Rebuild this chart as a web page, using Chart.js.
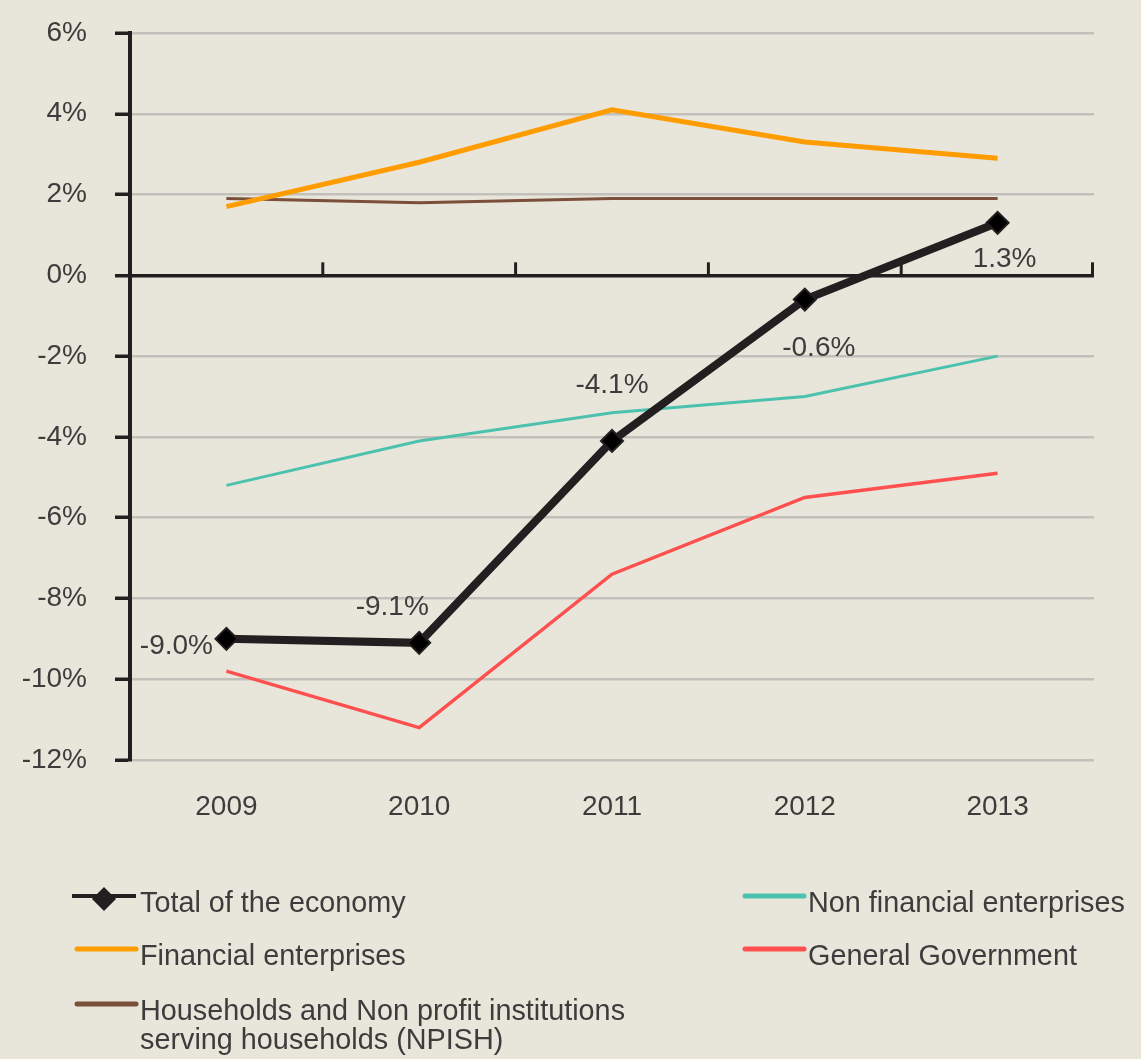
<!DOCTYPE html>
<html>
<head>
<meta charset="utf-8">
<script src="https://cdn.jsdelivr.net/npm/chart.js@4.4.0/dist/chart.umd.min.js"></script>
<style>
  html, body { margin: 0; padding: 0; background: #e8e6da; }
</style>
</head>
<body>
<canvas id="chart" width="1141" height="1059"></canvas>
<script>
// data
const years = ['2009', '2010', '2011', '2012', '2013'];
const totalEconomy = [-9.0, -9.1, -4.1, -0.6, 1.3];
const nonFinancial = [-5.2, -4.1, -3.4, -3.0, -2.0];
const financial = [1.7, 2.8, 4.1, 3.3, 2.9];
const generalGov = [-9.8, -11.2, -7.4, -5.5, -4.9];
const households = [1.9, 1.8, 1.9, 1.9, 1.9];
const yMin = -12, yMax = 6, yStep = 2;

const dark = '#231f20';
const textColor = '#3c3c3c';
const font = '"Liberation Sans", Arial, sans-serif';
Chart.defaults.font.family = font;

// where each value label sits relative to its point
const labelOffsets = [[-50, 7], [-27, -36], [0, -56], [14, 49], [7, 36]];
// legend slots: text left x, row centre y
const legendSlots = [[140, 904], [808, 904], [140, 957], [808, 957], [140, 1012]];

const valueLabels = {
  id: 'valueLabels',
  afterDatasetsDraw(chart) {
    const ctx = chart.ctx;
    const meta = chart.getDatasetMeta(0);
    ctx.save();
    ctx.font = '28px ' + font;
    ctx.fillStyle = textColor;
    ctx.textAlign = 'center';
    ctx.textBaseline = 'middle';
    meta.data.forEach((pt, i) => {
      const v = totalEconomy[i];
      ctx.fillText(v.toFixed(1) + '%', pt.x + labelOffsets[i][0], pt.y + labelOffsets[i][1]);
    });
    ctx.restore();
  }
};

// category separators standing on the 0% line
const zeroTicks = {
  id: 'zeroTicks',
  beforeDatasetsDraw(chart) {
    const ctx = chart.ctx;
    const x = chart.scales.x, y = chart.scales.y;
    const y0 = y.getPixelForValue(0);
    ctx.save();
    ctx.strokeStyle = dark;
    ctx.lineWidth = 3;
    for (let i = 0; i < years.length; i++) {
      const px = i < years.length - 1
        ? (x.getPixelForValue(i) + x.getPixelForValue(i + 1)) / 2
        : chart.chartArea.right - 1.5;
      ctx.beginPath();
      ctx.moveTo(px, y0);
      ctx.lineTo(px, y0 - 13);
      ctx.stroke();
    }
    ctx.restore();
  }
};

const legendBox = {
  id: 'legendBox',
  afterDraw(chart) {
    const ctx = chart.ctx;
    ctx.save();
    ctx.font = '28.8px ' + font;
    ctx.textBaseline = 'middle';
    chart.data.datasets.forEach((ds, i) => {
      const [tx, ty] = legendSlots[i];
      const sy = ty - 8;
      ctx.strokeStyle = ds.borderColor;
      ctx.lineCap = i === 0 ? 'butt' : 'round';
      ctx.lineWidth = i === 0 ? 4 : 5;
      ctx.beginPath();
      ctx.moveTo(tx - (i === 0 ? 68 : 63), sy);
      ctx.lineTo(tx - 4, sy);
      ctx.stroke();
      if (i === 0) {
        const cx = tx - 36, cy = sy + 3, r = 12;
        ctx.fillStyle = dark;
        ctx.beginPath();
        ctx.moveTo(cx, cy - r);
        ctx.lineTo(cx + r, cy);
        ctx.lineTo(cx, cy + r);
        ctx.lineTo(cx - r, cy);
        ctx.closePath();
        ctx.fill();
      }
      // wrap long labels
      const words = ds.label.split(' ');
      const lines = [];
      let cur = '';
      words.forEach(w => {
        const test = cur ? cur + ' ' + w : w;
        if (ctx.measureText(test).width > 510 && cur) { lines.push(cur); cur = w; }
        else cur = test;
      });
      lines.push(cur);
      ctx.fillStyle = textColor;
      ctx.textAlign = 'left';
      lines.forEach((ln, k) => ctx.fillText(ln, tx, ty + k * 29));
    });
    ctx.restore();
  }
};

new Chart(document.getElementById('chart'), {
  type: 'line',
  data: {
    labels: years,
    datasets: [
      {
        label: 'Total of the economy',
        data: totalEconomy,
        borderColor: dark,
        borderWidth: 8,
        pointStyle: 'rectRot',
        pointRadius: 11,
        pointBackgroundColor: '#000000',
        pointBorderColor: dark,
        pointBorderWidth: 2
      },
      {
        label: 'Non financial enterprises',
        data: nonFinancial,
        borderColor: '#4cc2ae',
        borderWidth: 3,
        pointRadius: 0
      },
      {
        label: 'Financial enterprises',
        data: financial,
        borderColor: '#ff9c00',
        borderWidth: 5,
        pointRadius: 0
      },
      {
        label: 'General Government',
        data: generalGov,
        borderColor: '#ff5050',
        borderWidth: 3.5,
        pointRadius: 0
      },
      {
        label: 'Households and Non profit institutions serving households (NPISH)',
        data: households,
        borderColor: '#7b4f3a',
        borderWidth: 3,
        pointRadius: 0
      }
    ]
  },
  options: {
    responsive: false,
    animation: false,
    events: [],
    layout: { padding: { left: 0, right: 47, top: 33, bottom: 209 } },
    plugins: { legend: { display: false }, tooltip: { enabled: false } },
    scales: {
      x: {
        offset: true,
        grid: { display: false, drawTicks: false },
        border: { display: false },
        ticks: { color: textColor, font: { size: 28 }, padding: 30 },
        afterFit(scale) { scale.height = 90; }
      },
      y: {
        min: yMin,
        max: yMax,
        ticks: {
          stepSize: yStep,
          color: textColor,
          font: { size: 28 },
          padding: 28,
          callback: v => v + '%'
        },
        grid: {
          color: c => c.tick && c.tick.value === 0 ? dark : '#c2c0bb',
          lineWidth: c => c.tick && c.tick.value === 0 ? 3.5 : 2.5,
          tickColor: dark,
          tickWidth: 3.5,
          tickLength: 15
        },
        border: { color: dark, width: 4 },
        afterFit(scale) {
          scale.width = 130;
          scale.paddingTop = 0;
          scale.paddingBottom = 0;
        }
      }
    }
  },
  plugins: [zeroTicks, valueLabels, legendBox]
});
</script>
</body>
</html>
